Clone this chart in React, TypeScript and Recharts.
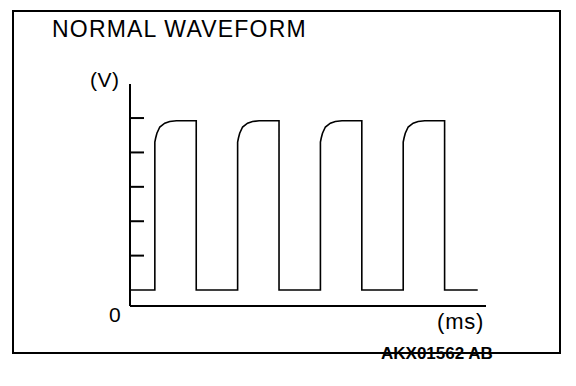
import React from 'react';
import { LineChart, Line, XAxis, YAxis } from 'recharts';

// time (ms, arbitrary units) and voltage
const timeMs = [
  0, 3, 3, 3.1, 3.25, 3.6, 4.2, 4.8, 5.6, 8, 8,
  13, 13, 13.1, 13.25, 13.6, 14.2, 14.8, 15.6, 18, 18,
  23, 23, 23.1, 23.25, 23.6, 24.2, 24.8, 25.6, 28, 28,
  33, 33, 33.1, 33.25, 33.6, 34.2, 34.8, 35.6, 38, 38,
  42,
];
const volts = [
  0, 0, 4.3, 4.42, 4.56, 4.74, 4.85, 4.9, 4.92, 4.92, 0,
  0, 4.3, 4.42, 4.56, 4.74, 4.85, 4.9, 4.92, 4.92, 0,
  0, 4.3, 4.42, 4.56, 4.74, 4.85, 4.9, 4.92, 4.92, 0,
  0, 4.3, 4.42, 4.56, 4.74, 4.85, 4.9, 4.92, 4.92, 0,
  0,
];
const voltTicks = [1, 2, 3, 4, 5];

const title = 'NORMAL WAVEFORM';
const yUnit = '(V)';
const xUnit = '(ms)';
const originLabel = '0';
const figureCode = 'AKX01562 AB';

const data = timeMs.map((t, i) => ({ t, v: volts[i] }));

const font = '"Liberation Sans", Arial, sans-serif';

const App: React.FC = () => {
  return (
    <div style={{ position: 'absolute', left: 0, top: 0, width: 576, height: 386, background: '#fff' }}>
      <div
        style={{
          position: 'absolute',
          left: 12,
          top: 10,
          width: 549,
          height: 344,
          border: '2px solid #000',
          boxSizing: 'border-box',
        }}
      />
      <div style={{ position: 'absolute', left: 0, top: 0 }}>
        <LineChart width={576} height={386} data={data} margin={{ top: 84, right: 90, bottom: 79, left: 130 }}>
          <XAxis
            type="number"
            dataKey="t"
            domain={[0, 43]}
            height={1}
            tick={false}
            tickLine={false}
            axisLine={{ stroke: '#000', strokeWidth: 2 }}
          />
          <YAxis
            type="number"
            domain={[-0.465, 5.99]}
            ticks={voltTicks}
            width={1}
            mirror
            tickSize={14}
            tickFormatter={() => ''}
            tickLine={{ stroke: '#000', strokeWidth: 2 }}
            axisLine={{ stroke: '#000', strokeWidth: 2 }}
          />
          <Line
            type="linear"
            dataKey="v"
            stroke="#000"
            strokeWidth={1.6}
            dot={false}
            activeDot={false}
            isAnimationActive={false}
          />
        </LineChart>
      </div>
      <svg width={576} height={386} style={{ position: 'absolute', left: 0, top: 0 }}>
        <text x={52} y={37} fontFamily={font} fontSize={23} letterSpacing={1.2} fill="#000">
          {title}
        </text>
        <text x={90} y={87} fontFamily={font} fontSize={21} letterSpacing={0.5} fill="#000">
          {yUnit}
        </text>
        <text x={109} y={322} fontFamily={font} fontSize={21} fill="#000">
          {originLabel}
        </text>
        <text x={437} y={329} fontFamily={font} fontSize={22} letterSpacing={0.8} fill="#000">
          {xUnit}
        </text>
        <text x={381} y={359} fontFamily={font} fontSize={17} fontWeight="bold" fill="#000">
          {figureCode}
        </text>
      </svg>
    </div>
  );
};

export default App;
